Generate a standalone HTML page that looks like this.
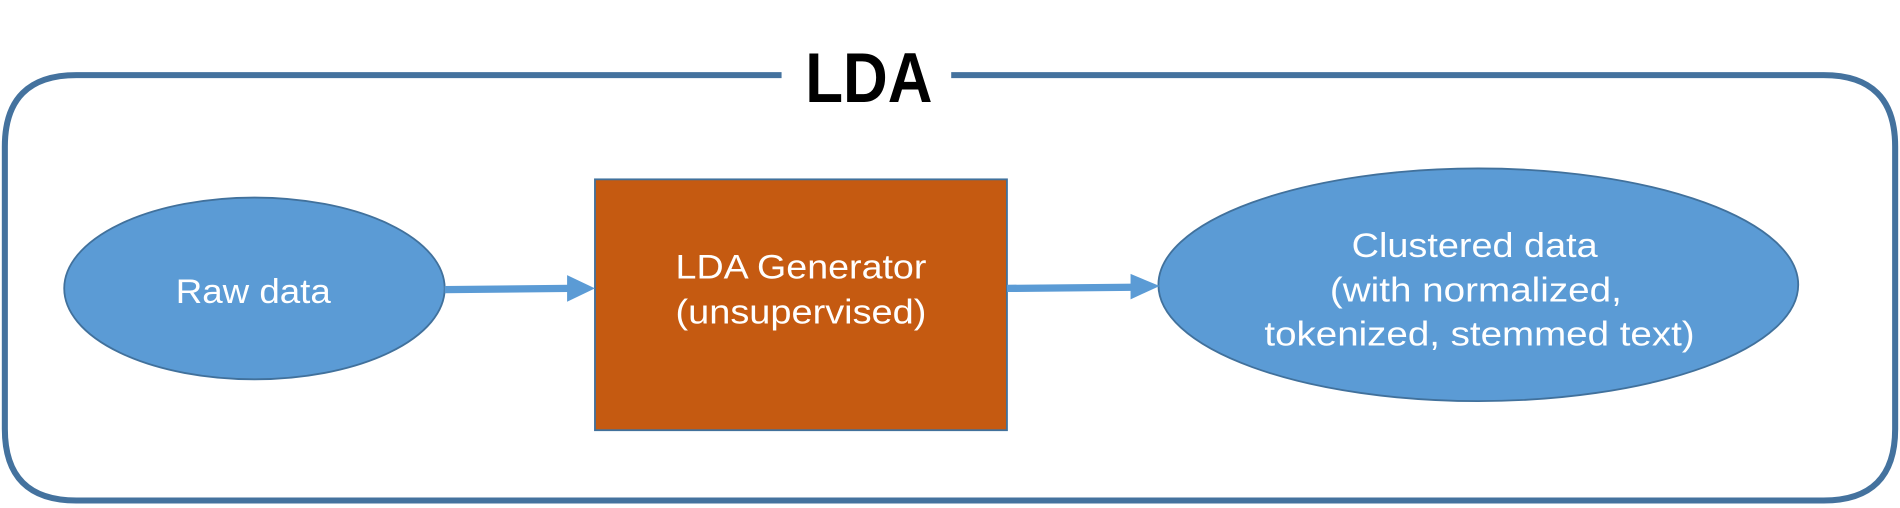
<!DOCTYPE html>
<html><head><meta charset="utf-8"><style>
html,body{margin:0;padding:0;background:#fff;}
svg{display:block;}
text{font-family:"Liberation Sans","DejaVu Sans",sans-serif;}
</style></head><body>
<svg width="1900" height="508" viewBox="0 0 1568 419.2" preserveAspectRatio="none" xmlns="http://www.w3.org/2000/svg">
<rect x="0" y="0" width="1568" height="420" fill="#fff"/>
<path d="M645 62 L63 62 Q4 62 4 121 L4 354 Q4 413 63 413 L1505 413 Q1564 413 1564 354 L1564 121 Q1564 62 1505 62 L785 62" fill="none" stroke="#44729e" stroke-width="5"/>
<text x="717" y="84" text-anchor="middle" font-size="58" font-weight="bold" fill="#000" textLength="105" lengthAdjust="spacingAndGlyphs">LDA</text>
<ellipse cx="210" cy="238" rx="157" ry="75" fill="#5b9bd5" stroke="#41719c" stroke-width="1.5"/>
<text x="209" y="250" text-anchor="middle" font-size="28" fill="#fff" textLength="128" lengthAdjust="spacingAndGlyphs">Raw data</text>
<rect x="491" y="148" width="340" height="207" fill="#c55a11" stroke="#41719c" stroke-width="1.5"/>
<text x="661" y="230" text-anchor="middle" font-size="28" fill="#fff" textLength="207" lengthAdjust="spacingAndGlyphs">LDA Generator</text>
<text x="661" y="267" text-anchor="middle" font-size="28" fill="#fff" textLength="207" lengthAdjust="spacingAndGlyphs">(unsupervised)</text>
<ellipse cx="1220" cy="235" rx="264" ry="96" fill="#5b9bd5" stroke="#41719c" stroke-width="1.5"/>
<text x="1217" y="212" text-anchor="middle" font-size="28" fill="#fff" textLength="203" lengthAdjust="spacingAndGlyphs">Clustered data</text>
<text x="1218" y="249" text-anchor="middle" font-size="28" fill="#fff" textLength="241" lengthAdjust="spacingAndGlyphs">(with normalized,</text>
<text x="1221" y="285" text-anchor="middle" font-size="28" fill="#fff" textLength="355" lengthAdjust="spacingAndGlyphs">tokenized, stemmed text)</text>
<line x1="367" y1="239" x2="470" y2="238" stroke="#5b9bd5" stroke-width="6"/>
<polygon points="468,227 491,238 468,249" fill="#5b9bd5"/>
<line x1="831" y1="238" x2="935" y2="237" stroke="#5b9bd5" stroke-width="6"/>
<polygon points="933,226 957,236 933,247" fill="#5b9bd5"/>
</svg>
</body></html>
